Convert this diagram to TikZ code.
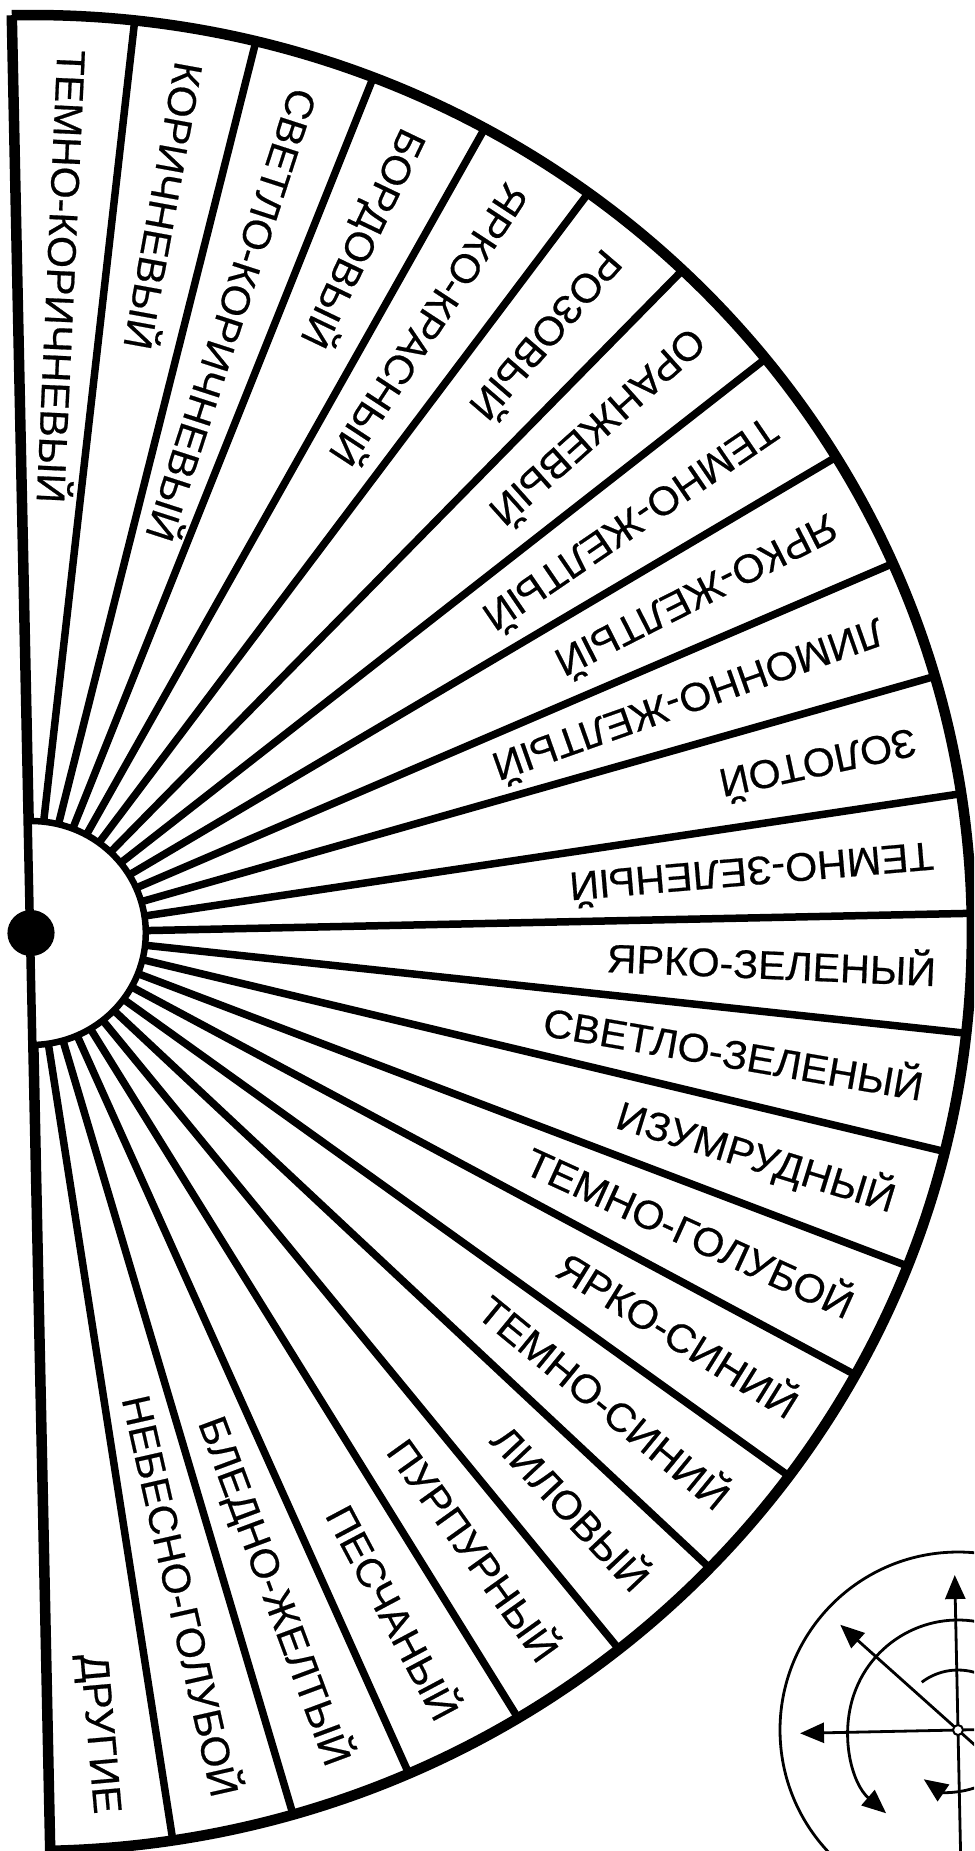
\documentclass[tikz,border=0pt]{standalone}
\usepackage{fontspec}
\setmainfont{Liberation Sans}
\newfontfamily\lblfont[FakeStretch=1.03,FakeBold=0.5]{Liberation Sans}
\usetikzlibrary{arrows.meta}
\begin{document}
\begin{tikzpicture}[x=1pt,y=1pt,
  lbl/.style={font=\lblfont\fontsize{40}{40}\selectfont, inner sep=0pt, text height=28.6pt, text depth=0pt},
  divider/.style={line width=7.5pt},
  rim/.style={line width=10.5pt, line join=round},
  hub/.style={line width=6.5pt, fill=white},
  sym/.style={line width=2.8pt},
  symarr/.style={sym, -{Triangle[length=24pt,width=20pt]}}]
\useasboundingbox (0,0) rectangle (974,-1851);
\clip (0,0) rectangle (974,-1851);
\fill[white] (0,0) rectangle (974,-1851);
% ---- fan ----
\begin{scope}[shift={(31,-933)}, rotate=1.2, xscale=1.025]
  \foreach \k in {1,...,23}
    \draw[divider] (90-7.5*\k:112) -- (90-7.5*\k:918);
  \draw[rim] (0,918) arc[start angle=90, end angle=-90, radius=918];
  \draw[rim] (0,918) -- (0,-918);
  \draw[hub] (0,112) arc[start angle=90, end angle=-90, radius=112] -- cycle;
  \fill (0,0) circle[radius=23];
  \foreach \t [count=\i from 0] in {ТЕМНО-КОРИЧНЕВЫЙ, КОРИЧНЕВЫЙ, СВЕТЛО-КОРИЧНЕВЫЙ, БОРДОВЫЙ, ЯРКО-КРАСНЫЙ, РОЗОВЫЙ, ОРАНЖЕВЫЙ, ТЕМНО-ЖЕЛТЫЙ, ЯРКО-ЖЕЛТЫЙ, ЛИМОННО-ЖЕЛТЫЙ, ЗОЛОТОЙ, ТЕМНО-ЗЕЛЕНЫЙ, ЯРКО-ЗЕЛЕНЫЙ, СВЕТЛО-ЗЕЛЕНЫЙ, ИЗУМРУДНЫЙ, ТЕМНО-ГОЛУБОЙ, ЯРКО-СИНИЙ, ТЕМНО-СИНИЙ, ЛИЛОВЫЙ, ПУРПУРНЫЙ, ПЕСЧАНЫЙ, БЛЕДНО-ЖЕЛТЫЙ, НЕБЕСНО-ГОЛУБОЙ, ДРУГИЕ} {
    \pgfmathsetmacro\a{86.25-7.5*\i}
    \pgfmathsetmacro\rr{atan2(sin(\a),1.025*cos(\a))+1.2}
    \pgfmathsetmacro\ro{\rr+180}
    \ifnum\i<12
      \node[lbl, anchor=west, rotate=\ro] (l\i) at (\a:884) {\t};
    \else
      \node[lbl, anchor=east, rotate=\rr] (l\i) at (\a:884) {\t};
    \fi
  }
\end{scope}
% ---- symbol bottom right ----
\begin{scope}[shift={(958,-1730)}, rotate=1.2]
  \draw[sym] (0,0) circle[radius=178];
  \draw[symarr] (70:110) arc[start angle=70, end angle=228, radius=110];
  \draw[sym] (60:60) arc[start angle=60, end angle=126, radius=60];
  \draw[symarr] (300:60) arc[start angle=300, end angle=234, radius=60];
  \draw[symarr] (0,-200) -- (0,155);
  \draw[symarr] (60,0) -- (-158,0);
  \draw[symarr] (-43:80) -- (137:158);
  \draw[line width=2pt, fill=white] (0,0) circle[radius=5];
\end{scope}
\end{tikzpicture}
\end{document}
